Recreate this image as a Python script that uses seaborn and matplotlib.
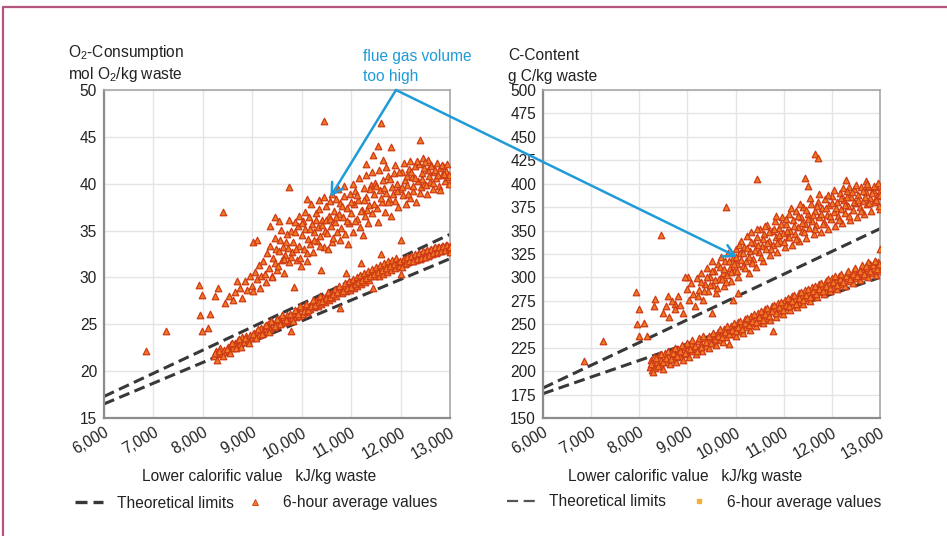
import matplotlib
matplotlib.use("Agg")
import matplotlib.pyplot as plt
from matplotlib import font_manager
import seaborn as sns
import pandas as pd
from matplotlib.lines import Line2D
from matplotlib.ticker import FuncFormatter

# ---------------- data ----------------
limit_x = [6000, 13000]
o2_upper_limit = [17.3, 34.6]
o2_lower_limit = [16.5, 32.0]
c_upper_limit = [182, 352]
c_lower_limit = [176, 300]

o2_band_x = [8220, 8260, 8290, 8310, 8350, 8380, 8420, 8460, 8500, 8530, 8560, 8610, 8650, 8690, 8720, 8760,
             8800, 8840, 8880, 8910, 8950, 8990, 9030, 9060, 9100, 9140, 9170, 9210, 9250, 9290, 9320, 9360,
             9400, 9430, 9470, 9510, 9550, 9580, 9620, 9660, 9700, 9730, 9780, 9800, 9840, 9880, 9910, 9950,
             9990, 10020, 10060, 10100, 10140, 10170, 10210, 10250, 10290, 10320, 10360, 10400, 10440, 10470,
             10510, 10550, 10590, 10620, 10660, 10700, 10740, 10780, 10810, 10850, 10890, 10930, 10970, 11010,
             11050, 11090, 11120, 11160, 11200, 11240, 11280, 11320, 11360, 11400, 11440, 11480, 11520, 11560,
             11600, 11640, 11680, 11720, 11760, 11800, 11840, 11880, 11920, 11960, 12000, 12040, 12080, 12120,
             12160, 12200, 12240, 12280, 12320, 12360, 12400, 12440, 12480, 12520, 12560, 12600, 12640, 12680,
             12720, 12760, 12800, 12840, 12880, 12920, 12960, 12990,
             8240, 8330, 8400, 8480, 8540, 8590, 8670, 8740, 8780, 8860, 8930, 9010, 9080, 9120, 9190, 9270,
             9340, 9380, 9450, 9490, 9560, 9600, 9680, 9760, 9820, 9860, 9930, 9970, 10040, 10080, 10120,
             10190, 10230, 10270, 10340, 10380, 10420, 10490, 10530, 10570, 10640, 10680, 10720, 10760, 10830,
             10870, 10910, 10950, 10990, 11030, 11070, 11110, 11140, 11180, 11220, 11260, 11300, 11340, 11380,
             11420, 11460, 11500, 11540, 11580, 11620, 11660, 11700, 11740, 11780, 11820, 11860, 11900, 11940,
             11980, 12020, 12060, 12100, 12140, 12180, 12220, 12260, 12300, 12340, 12380, 12420, 12460, 12500,
             12540, 12580, 12620, 12660, 12700, 12740, 12780, 12820, 12860, 12900, 12940, 12970, 12995]
o2_band_y = [21.6, 22.1, 21.2, 21.9, 22.5, 21.8, 22.3, 22.0, 22.6, 22.2, 22.9, 22.5, 23.0, 22.7, 23.3, 22.9,
             23.6, 23.1, 23.8, 23.3, 23.9, 23.5, 24.1, 23.6, 24.3, 23.9, 24.6, 24.1, 24.8, 24.3, 25.0, 24.5,
             25.2, 24.7, 25.4, 24.9, 25.6, 25.1, 25.8, 25.2, 26.0, 25.4, 24.3, 25.7, 26.2, 25.8, 26.4, 25.9,
             26.7, 26.1, 26.9, 26.3, 27.0, 26.6, 27.3, 26.8, 27.5, 27.0, 27.7, 27.2, 27.9, 27.4,
             28.1, 27.6, 28.3, 27.8, 28.6, 28.0, 28.8, 26.7, 28.3, 29.0, 28.5, 29.2, 28.7, 29.4,
             28.9, 29.7, 29.1, 29.9, 29.3, 30.1, 29.5, 30.3, 29.7, 30.5, 28.9, 30.1, 30.8, 30.2,
             31.0, 30.4, 31.2, 30.6, 31.4, 30.8, 31.5, 31.0, 31.7, 31.2, 30.4, 31.9, 31.4, 32.0,
             31.6, 32.2, 31.7, 32.3, 31.9, 32.5, 32.0, 32.6, 32.2, 32.8, 32.3, 32.9, 32.5, 33.1,
             32.6, 33.2, 32.8, 33.4, 32.9, 33.5, 33.0, 32.7,
             21.9, 22.2, 21.6, 22.4, 21.9, 23.0, 22.5, 23.4, 22.6, 23.5, 23.0, 24.0, 23.5, 24.5, 24.0, 24.9,
             24.2, 25.3, 24.8, 25.6, 25.0, 26.0, 25.5, 26.1, 25.4, 26.5, 26.1, 26.9, 26.4, 27.2, 26.5,
             27.0, 27.6, 27.1, 27.4, 28.0, 27.5, 27.8, 28.4, 27.9, 28.2, 28.8, 28.4, 29.1, 28.6,
             29.4, 28.9, 29.6, 29.0, 29.8, 29.3, 30.0, 29.5, 30.3, 29.7, 30.5, 29.9, 30.7, 30.1,
             30.9, 30.4, 31.1, 30.6, 31.3, 30.8, 31.5, 31.0, 31.7, 31.2, 31.9, 31.4, 32.1, 31.6,
             31.8, 31.1, 32.0, 31.5, 32.2, 31.7, 32.3, 31.8, 32.5, 32.0, 32.6, 32.1, 32.8, 32.2,
             32.9, 32.4, 33.0, 32.6, 33.2, 32.7, 33.3, 32.8, 33.4, 32.9, 33.5, 33.1, 33.4]

o2_high_x = [6850, 7250, 7920, 7940, 7980, 7990, 8110, 8150, 8250, 8310, 8400, 8450, 8520, 8600, 8650, 8700,
             8750, 8800, 9020, 9100, 9350, 9450, 9550, 9750, 10100, 10450, 11300, 11450, 11550, 11600, 11650,
             11800, 12200, 12400, 12450, 12550, 13000,
             8850, 8900, 8950, 9000, 9020, 9060, 9100, 9130, 9150, 9180, 9220, 9250, 9280, 9300, 9330, 9360,
             9390, 9420, 9450, 9480, 9510, 9540, 9570, 9600, 9620, 9650, 9670, 9700, 9720, 9750, 9780, 9800,
             9830, 9850, 9870, 9900, 9920, 9950, 9970, 10000, 10020, 10050, 10070, 10100, 10120, 10150, 10170,
             10200, 10230, 10250, 10280, 10300, 10330, 10350, 10380, 10400, 10420, 10450, 10470, 10500, 10520,
             10550, 10570, 10600, 10620, 10650, 10680, 10700, 10720, 10750, 10780, 10800, 10830, 10850, 10880,
             10900, 10920, 10950, 10980, 11000, 11030, 11060, 11080, 11110, 11140, 11170, 11200, 11220, 11250,
             11280, 11310, 11340, 11370, 11400, 11430, 11460, 11490, 11520, 11550, 11580, 11600, 11620, 11650,
             11680, 11710, 11740, 11770, 11800, 11830, 11860, 11890, 11920, 11950, 11980, 12000, 12020, 12050,
             12080, 12110, 12140, 12170, 12200, 12230, 12260, 12290, 12320, 12350, 12380, 12410, 12440, 12470,
             12500, 12530, 12560, 12590, 12620, 12650, 12680, 12710, 12740, 12770, 12800, 12830, 12860, 12890,
             12920, 12950, 12980,
             9400, 9460, 9530, 9590, 9640, 9690, 9740, 9790, 9860, 9890, 9940, 9980, 10010, 10060, 10110,
             10160, 10190, 10240, 10290, 10340, 10370, 10410, 10460, 10490, 10530, 10580, 10610, 10640, 10690,
             10730, 10770, 10820, 10860, 10910, 10940, 10990, 11040, 11070, 11120, 11160, 11190, 11240, 11270,
             11300, 11330, 11390, 11420, 11470, 11510, 11560, 11610, 11660, 11700, 11750, 11790, 11840, 11880,
             11930, 11970, 12030, 12060, 12120, 12160, 12210, 12250, 12300, 12340, 12390, 12430, 12480, 12520,
             12570, 12610, 12660, 12700, 12750, 12790, 12840, 12880, 12930, 12970]
o2_high_y = [22.1, 24.3, 29.2, 26.0, 28.1, 24.3, 24.6, 26.1, 28.0, 28.9, 37.0, 27.3, 28.0, 27.6, 28.4, 29.6,
             28.9, 27.8, 33.8, 34.0, 35.5, 36.5, 36.0, 39.7, 38.4, 46.7, 42.1, 43.1, 44.0, 46.5, 42.5,
             43.9, 42.4, 44.7, 42.7, 42.5, 33.2,
             29.6, 28.7, 30.2, 29.1, 28.5, 30.6, 29.8, 31.3, 28.9, 30.1, 31.8, 30.4, 29.5, 32.6, 31.0, 33.4,
             30.2, 32.1, 31.5, 33.0, 30.8, 32.8, 34.0, 31.9, 33.3, 30.5, 32.4, 34.6, 33.1, 31.6, 35.0, 32.7,
             33.8, 29.0, 34.9, 31.9, 35.5, 33.4, 32.1, 34.5, 36.0, 33.0, 35.2, 31.8, 34.1, 36.4, 33.6,
             35.7, 32.7, 34.8, 36.9, 33.9, 35.4, 37.3, 34.4, 30.8, 36.1, 33.3, 35.0, 37.6, 34.7,
             36.6, 38.2, 35.5, 33.8, 37.1, 35.9, 38.4, 34.9, 36.8, 37.9, 35.3, 36.4, 38.7, 34.6,
             30.5, 37.4, 35.8, 38.9, 36.9, 34.9, 37.8, 39.2, 36.2, 38.3, 35.4, 31.5, 37.2, 39.5,
             36.6, 38.6, 35.8, 37.7, 39.9, 36.9, 38.9, 40.1, 37.4, 35.9, 39.3, 32.5, 38.1, 40.4,
             37.0, 39.0, 40.8, 38.4, 36.6, 39.7, 41.1, 38.2, 40.0, 37.5, 39.4, 34.0, 41.3, 38.8,
             40.4, 37.8, 39.9, 41.6, 38.5, 40.7, 39.2, 41.9, 38.1, 40.3, 42.1, 39.6, 41.1, 40.0,
             42.3, 38.9, 41.5, 40.2, 42.0, 39.4, 41.2, 40.6, 42.2, 39.8, 41.7, 40.9, 41.9, 40.3,
             41.4, 40.7, 40.9,
             30.0, 34.2, 31.2, 35.1, 32.0, 33.8, 36.1, 32.2, 35.9, 33.0, 36.6, 31.2, 35.8, 37.0, 32.6,
             35.2, 37.8, 34.0, 36.1, 38.3, 33.4, 35.6, 38.6, 36.1, 33.0, 36.2, 38.9, 34.2, 36.4,
             39.4, 34.0, 37.6, 39.8, 36.0, 33.6, 38.0, 40.0, 36.0, 38.8, 40.6, 37.1, 34.5, 38.3,
             40.9, 37.2, 39.4, 41.2, 37.8, 39.8, 41.5, 38.5, 39.5, 41.8, 38.0, 40.5, 38.9, 42.0,
             39.2, 41.2, 39.6, 42.2, 40.8, 38.9, 41.3, 39.8, 40.6, 42.4, 39.0, 40.5, 41.7, 39.9,
             40.8, 41.9, 40.1, 41.5, 40.9, 39.3, 42.0, 41.0, 42.1, 40.0]

c_band_x = [8220, 8250, 8270, 8300, 8330, 8360, 8400, 8430, 8460, 8500, 8530, 8560, 8600, 8630, 8670, 8700,
            8740, 8770, 8800, 8840, 8870, 8900, 8940, 8970, 9000, 9040, 9070, 9100, 9140, 9170, 9210, 9240,
            9280, 9310, 9350, 9380, 9420, 9450, 9490, 9520, 9560, 9590, 9630, 9660, 9700, 9730, 9770, 9800,
            9840, 9870, 9910, 9940, 9980, 10010, 10050, 10080, 10120, 10150, 10190, 10220, 10260, 10290,
            10330, 10360, 10400, 10430, 10470, 10500, 10540, 10570, 10610, 10640, 10680, 10710, 10750, 10780,
            10820, 10850, 10890, 10920, 10960, 10990, 11030, 11060, 11100, 11130, 11170, 11200, 11240, 11270,
            11310, 11340, 11380, 11410, 11450, 11480, 11520, 11550, 11590, 11620, 11660, 11690, 11730, 11760,
            11800, 11830, 11870, 11900, 11940, 11970, 12010, 12040, 12080, 12110, 12150, 12190, 12230, 12270,
            12310, 12350, 12390, 12430, 12470, 12510, 12550, 12590, 12630, 12670, 12710, 12750, 12790, 12830,
            12870, 12910, 12950, 12990,
            8240, 8280, 8350, 8390, 8450, 8490, 8550, 8590, 8650, 8690, 8750, 8790, 8850, 8890, 8950, 8990,
            9050, 9090, 9150, 9190, 9250, 9290, 9330, 9390, 9440, 9480, 9540, 9580, 9640, 9680, 9720, 9780,
            9820, 9860, 9920, 9960, 10000, 10060, 10100, 10140, 10200, 10240, 10280, 10340, 10380, 10420,
            10480, 10520, 10560, 10620, 10660, 10700, 10760, 10800, 10840, 10900, 10940, 10980, 11040, 11080,
            11120, 11180, 11220, 11260, 11320, 11360, 11400, 11460, 11500, 11540, 11600, 11640, 11680, 11740,
            11780, 11820, 11880, 11920, 11960, 12020, 12060, 12100, 12160, 12200, 12240, 12300, 12340, 12380,
            12440, 12480, 12520, 12580, 12620, 12660, 12720, 12760, 12800, 12860, 12900, 12940, 12980]
c_band_y = [204, 212, 201, 215, 203, 210, 217, 206, 212, 202, 219, 210, 216, 208, 221, 213,
            218, 210, 224, 215, 220, 212, 226, 218, 223, 215, 229, 221, 226, 218, 232, 224,
            229, 221, 235, 227, 232, 225, 238, 230, 236, 228, 242, 233, 239, 231, 245, 236,
            242, 229, 248, 240, 245, 237, 252, 243, 249, 241, 256, 247, 252, 244,
            259, 251, 256, 248, 262, 254, 259, 251, 266, 257, 263, 255, 269, 243,
            266, 258, 273, 264, 269, 261, 276, 268, 273, 265, 280, 271, 277, 268,
            283, 274, 280, 272, 287, 278, 284, 275, 290, 281, 287, 279, 293, 284,
            290, 282, 296, 287, 293, 285, 299, 290, 296, 288, 302, 293, 299, 291,
            305, 296, 302, 294, 308, 299, 305, 297, 311, 302, 308, 300, 314, 305,
            310, 303, 316, 307,
            208, 199, 214, 205, 218, 210, 214, 222, 213, 219, 225, 216, 222, 228, 219, 230,
            224, 233, 227, 222, 235, 226, 237, 231, 238, 230, 241, 234, 238, 245, 236, 242,
            248, 240, 244, 251, 243, 247, 254, 245, 251, 257, 249, 254, 261, 252,
            258, 264, 255, 261, 267, 259, 264, 271, 262, 268, 274, 265, 271, 278,
            269, 275, 281, 272, 278, 284, 276, 281, 288, 279, 285, 291, 282, 288,
            294, 286, 291, 298, 289, 295, 301, 292, 298, 304, 295, 301, 307, 298,
            304, 310, 301, 307, 313, 304, 310, 316, 307, 313, 318, 309, 314]

c_high_x = [6850, 7250, 7930, 7950, 7990, 8000, 8100, 8150, 8300, 8320, 8450, 8600, 8750, 9020, 9500, 9800,
            9950, 10050, 10450, 11450, 11500, 11650, 11720, 12300, 12350, 12700, 12750, 13000, 13000, 12900,
            12700,
            8500, 8560, 8620, 8680, 8740, 8800, 8850, 8900, 8950, 9000, 9040, 9080, 9120, 9160, 9200, 9240,
            9280, 9320, 9360, 9400, 9430, 9460, 9500, 9530, 9560, 9600, 9630, 9660, 9700, 9730, 9760, 9790,
            9820, 9850, 9880, 9910, 9940, 9970, 10000, 10030, 10060, 10090, 10120, 10150, 10180, 10210, 10240,
            10270, 10300, 10330, 10360, 10390, 10420, 10450, 10480, 10510, 10540, 10570, 10600, 10630, 10660,
            10690, 10720, 10750, 10780, 10810, 10840, 10870, 10900, 10930, 10960, 10990, 11020, 11050, 11080,
            11110, 11140, 11170, 11200, 11230, 11260, 11290, 11320, 11350, 11380, 11410, 11440, 11470, 11500,
            11530, 11560, 11590, 11620, 11650, 11680, 11710, 11740, 11770, 11800, 11830, 11860, 11890, 11920,
            11950, 11980, 12010, 12040, 12070, 12100, 12130, 12160, 12190, 12220, 12250, 12280, 12310, 12340,
            12370, 12400, 12430, 12460, 12490, 12520, 12550, 12580, 12610, 12640, 12670, 12700, 12730, 12760,
            12790, 12820, 12850, 12880, 12910, 12940, 12970, 12990,
            9220, 9290, 9340, 9410, 9470, 9520, 9580, 9620, 9680, 9720, 9770, 9810, 9860, 9900, 9960, 10010,
            10040, 10080, 10110, 10160, 10200, 10230, 10280, 10320, 10350, 10400, 10440, 10470, 10530, 10560,
            10610, 10650, 10700, 10740, 10790, 10830, 10860, 10910, 10950, 11000, 11040, 11070, 11120, 11160,
            11210, 11250, 11300, 11330, 11370, 11420, 11460, 11510, 11550, 11600, 11640, 11690, 11730, 11780,
            11820, 11870, 11910, 11960, 12000, 12050, 12090, 12140, 12180, 12230, 12270, 12320, 12360, 12410,
            12450, 12500, 12540, 12600, 12650, 12690, 12740, 12780, 12830, 12870, 12920, 12960, 12995]
c_high_y = [211, 232, 284, 250, 266, 238, 251, 237, 269, 277, 345, 280, 272, 300, 262, 375,
            276, 283, 405, 406, 398, 432, 427, 404, 397, 403, 396, 330, 373, 318,
            312,
            262, 270, 258, 275, 266, 280, 271, 262, 300, 288, 276, 294, 282, 270, 299, 287,
            305, 276, 293, 310, 285, 300, 318, 292, 307, 283, 314, 298, 322, 305, 291, 317,
            303, 326, 310, 296, 321, 307, 330, 314, 300, 326, 339, 312, 333, 318, 344,
            305, 328, 348, 320, 337, 311, 343, 327, 352, 334, 318, 346, 330, 356,
            339, 324, 350, 335, 360, 343, 327, 353, 339, 364, 347, 332, 357, 343,
            368, 350, 335, 361, 346, 371, 354, 339, 364, 350, 375, 357, 342, 368,
            353, 378, 360, 346, 371, 356, 381, 364, 349, 374, 359, 384, 367, 352,
            377, 362, 387, 370, 355, 380, 366, 390, 373, 358, 383, 369, 392, 376,
            361, 386, 372, 394, 379, 365, 388, 375, 396, 382, 368, 391, 378, 398,
            385, 371, 393, 381, 397, 387, 376, 392,
            280, 295, 286, 300, 292, 307, 297, 289, 311, 298, 309, 295, 318, 306, 314, 322,
            307, 335, 319, 326, 310, 331, 322, 338, 315, 329, 352, 335, 322, 341,
            355, 337, 348, 330, 352, 366, 337, 345, 357, 338, 362, 350, 343, 374,
            355, 341, 366, 378, 358, 348, 372, 362, 385, 367, 352, 376, 389, 368,
            357, 374, 388, 366, 379, 393, 374, 361, 385, 395, 377, 386, 366, 391,
            380, 399, 383, 371, 392, 386, 400, 379, 390, 398, 383, 401, 388]

x_ticks = [6000, 7000, 8000, 9000, 10000, 11000, 12000, 13000]
o2_ticks = [15, 20, 25, 30, 35, 40, 45, 50]
c_ticks = [150, 175, 200, 225, 250, 275, 300, 325, 350, 375, 400, 425, 450, 475, 500]

# ---------------- style ----------------
sns.set_style("white")
available = {f.name for f in font_manager.fontManager.ttflist}
FONT = [f for f in ["Liberation Sans Narrow", "DejaVu Sans Condensed", "Liberation Sans"] if f in available]
FONT = FONT[:1] + ["DejaVu Sans"]
plt.rcParams["font.family"] = FONT
plt.rcParams["mathtext.default"] = "regular"
FS = 11.5 if FONT[0] != "Liberation Sans" else 11.2

W, H = 947, 536
fig = plt.figure(figsize=(W / 100, H / 100), dpi=100)


def fx(px):
    return px / W


def fy(py):
    return 1 - py / H


ax1 = fig.add_axes([fx(104), fy(418), fx(450) - fx(104), fy(90) - fy(418)])
ax2 = fig.add_axes([fx(543), fy(418), fx(880) - fx(543), fy(90) - fy(418)])

MFACE = "#f07a22"
MEDGE = "#cf3a16"
LINEC = "#383838"
TXT = "#222222"
BLUE = "#1f9bd7"


def draw_panel(ax, band_x, band_y, high_x, high_y, up, lo, yticks):
    pts = pd.DataFrame({"x": band_x + high_x, "y": band_y + high_y})
    lim = pd.DataFrame({"x": limit_x + limit_x,
                        "y": up + lo,
                        "which": ["upper"] * 2 + ["lower"] * 2})
    sns.lineplot(data=lim, x="x", y="y", units="which", estimator=None, ax=ax,
                 color=LINEC, lw=2.2, zorder=2, legend=False)
    for l in ax.lines:
        l.set_dashes([3.6, 1.8])
    sns.scatterplot(data=pts, x="x", y="y", ax=ax, marker="^", s=22,
                    color=MFACE, edgecolor=MEDGE, linewidth=0.9, zorder=3, legend=False)
    ax.set_xlim(6000, 13000)
    ax.set_ylim(yticks[0], yticks[-1])
    ax.set_xticks(x_ticks)
    ax.set_yticks(yticks)
    ax.xaxis.set_major_formatter(FuncFormatter(lambda v, p: f"{int(v):,}"))
    ax.grid(True, color="#e4e4e4", lw=1.0, zorder=0)
    ax.set_axisbelow(True)
    ax.set_xlabel("")
    ax.set_ylabel("")
    for s in ["left", "bottom"]:
        ax.spines[s].set_color("#8c8c8c")
        ax.spines[s].set_linewidth(1.6)
    for s in ["top", "right"]:
        ax.spines[s].set_color("#a8a8a8")
        ax.spines[s].set_linewidth(1.2)
    ax.tick_params(axis="both", which="major", length=3, width=1, color="#8c8c8c",
                   labelsize=FS, labelcolor=TXT, pad=2)
    for lab in ax.get_xticklabels():
        lab.set_rotation(30)
        lab.set_ha("right")
        lab.set_rotation_mode("anchor")


draw_panel(ax1, o2_band_x, o2_band_y, o2_high_x, o2_high_y, o2_upper_limit, o2_lower_limit, o2_ticks)
draw_panel(ax2, c_band_x, c_band_y, c_high_x, c_high_y, c_upper_limit, c_lower_limit, c_ticks)

# axis titles
fig.text(fx(68), fy(52), r"O$_2$-Consumption", fontsize=FS, color=TXT, va="center", ha="left")
fig.text(fx(68), fy(75), r"mol O$_2$/kg waste", fontsize=FS, color=TXT, va="center", ha="left")
fig.text(fx(508), fy(55), "C-Content", fontsize=FS, color=TXT, va="center", ha="left")
fig.text(fx(508), fy(77), "g C/kg waste", fontsize=FS, color=TXT, va="center", ha="left")

fig.text(fx(259), fy(476), "Lower calorific value   kJ/kg waste", fontsize=FS, color=TXT,
         ha="center", va="center")
fig.text(fx(685), fy(476), "Lower calorific value   kJ/kg waste", fontsize=FS, color=TXT,
         ha="center", va="center")

# annotation
fig.text(fx(363), fy(57), "flue gas volume", fontsize=FS, color=BLUE, ha="left", va="center")
fig.text(fx(363), fy(77), "too high", fontsize=FS, color=BLUE, ha="left", va="center")
start = (396, H - 90)
ax1.annotate("", xy=(10580, 38.6), xycoords="data", xytext=start, textcoords="figure pixels",
             arrowprops=dict(arrowstyle="->,head_length=0.8,head_width=0.45", color=BLUE, lw=1.8,
                             shrinkA=0, shrinkB=0), annotation_clip=False)
ax2.annotate("", xy=(10030, 322), xycoords="data", xytext=start, textcoords="figure pixels",
             arrowprops=dict(arrowstyle="->,head_length=0.8,head_width=0.45", color=BLUE, lw=1.8,
                             shrinkA=0, shrinkB=0), annotation_clip=False)

# legends
h_line1 = Line2D([], [], color=LINEC, lw=2.4, dashes=[3.6, 1.8])
h_pt1 = Line2D([], [], color="none", marker="^", markersize=5, markerfacecolor=MFACE,
               markeredgecolor=MEDGE, markeredgewidth=0.6)
leg1 = fig.legend([h_line1, h_pt1], ["Theoretical limits", "6-hour average values"],
                  loc="center", bbox_to_anchor=(fx(256), fy(503)), ncol=2, frameon=False,
                  fontsize=FS, handlelength=1.8, handletextpad=0.9, columnspacing=0.5)
h_line2 = Line2D([], [], color="#555555", lw=1.6, dashes=[5, 2.5])
h_pt2 = Line2D([], [], color="none", marker="s", markersize=3.5, markerfacecolor="#f2b23a",
               markeredgecolor="#f2b23a")
leg2 = fig.legend([h_line2, h_pt2], ["Theoretical limits", "6-hour average values"],
                  loc="center", bbox_to_anchor=(fx(694), fy(502)), ncol=2, frameon=False,
                  fontsize=FS, handlelength=1.8, handletextpad=0.9, columnspacing=1.2)
for lg in (leg1, leg2):
    for t in lg.get_texts():
        t.set_color(TXT)

# frame border (top and left)
BORDER = "#b4557f"
fig.add_artist(Line2D([fx(2.5), fx(2.5)], [fy(536), fy(6.5)], color=BORDER, lw=1.6))
fig.add_artist(Line2D([fx(2.5), fx(947)], [fy(6.5), fy(6.5)], color=BORDER, lw=1.6))

fig.savefig("out.png", dpi=100)
